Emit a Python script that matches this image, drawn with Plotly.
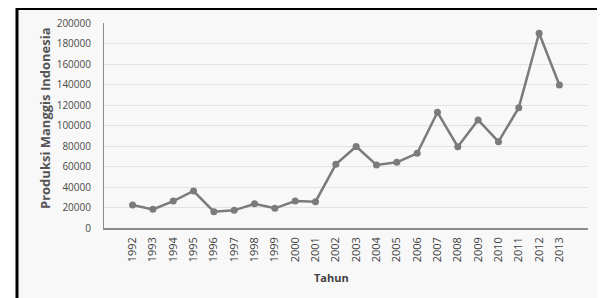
import plotly.graph_objects as go

years = [str(y) for y in range(1992, 2014)]
produksi = [22400, 18200, 26300, 36100, 15900, 17200, 23700, 19200, 26300, 25700,
            62100, 79500, 61500, 64100, 72900, 112900, 79300, 105400, 84200, 117400,
            190000, 139500]
y_ticks = list(range(0, 200001, 20000))

# the page body adds an 8px offset, so reference pixel coords are shifted by OFF
OFF = 8
W, H = 605 - OFF, 298 - OFF
L, R, T, B = 104 - OFF, 605 - 588, 23 - OFF, 298 - 228
pw, ph = W - L - R, H - T - B

def px(x):
    return (x - OFF - L) / pw

def py(y):
    return (H - B - (y - OFF)) / ph

fig = go.Figure()
fig.add_trace(go.Scatter(
    x=years, y=produksi, mode="lines+markers",
    line=dict(color="#7b7b7b", width=2.5),
    marker=dict(color="#7b7b7b", size=7),
    showlegend=False, cliponaxis=False,
))

fig.add_shape(type="rect", xref="paper", yref="paper",
              x0=px(17), x1=px(603), y0=py(8.5), y1=py(320),
              line=dict(color="black", width=3), fillcolor="#f8f8f8", layer="below")

font = "'Open Sans', sans-serif"
ytick_font = dict(family=font, size=10, color="#4a4a4a")
xtick_font = dict(family=font, size=11, color="#404040")

fig.add_annotation(text="<b>Tahun</b>", xref="paper", yref="paper",
                   x=px(331), y=py(277), showarrow=False,
                   font=dict(family=font, size=11, color="#404040"),
                   xanchor="center", yanchor="middle")
fig.add_annotation(text="<b>Produksi Manggis Indonesia</b>", xref="paper", yref="paper",
                   x=px(45), y=py(118), showarrow=False,
                   font=dict(family=font, size=13, color="#555555"), textangle=-90,
                   xanchor="center", yanchor="middle")

fig.update_layout(
    width=W, height=H,
    margin=dict(l=L, r=R, t=T, b=B),
    paper_bgcolor="white", plot_bgcolor="rgba(0,0,0,0)",
    font=dict(family=font, size=10, color="#404040"),
    xaxis=dict(
        type="category", showgrid=False, showline=True, linecolor="#8c8c8c", linewidth=1.5,
        tickangle=-90, tickfont=xtick_font, ticks="", automargin=False, ticklabelstandoff=3,
    ),
    yaxis=dict(
        range=[0, 200000], tickvals=y_ticks, ticktext=[str(v) for v in y_ticks],
        showgrid=True, gridcolor="#e3e3e3", gridwidth=1, zeroline=False,
        showline=True, linecolor="#8c8c8c", linewidth=1, ticks="",
        tickfont=ytick_font, automargin=False, ticklabelstandoff=10,
    ),
)

fig.write_html("out.html")
